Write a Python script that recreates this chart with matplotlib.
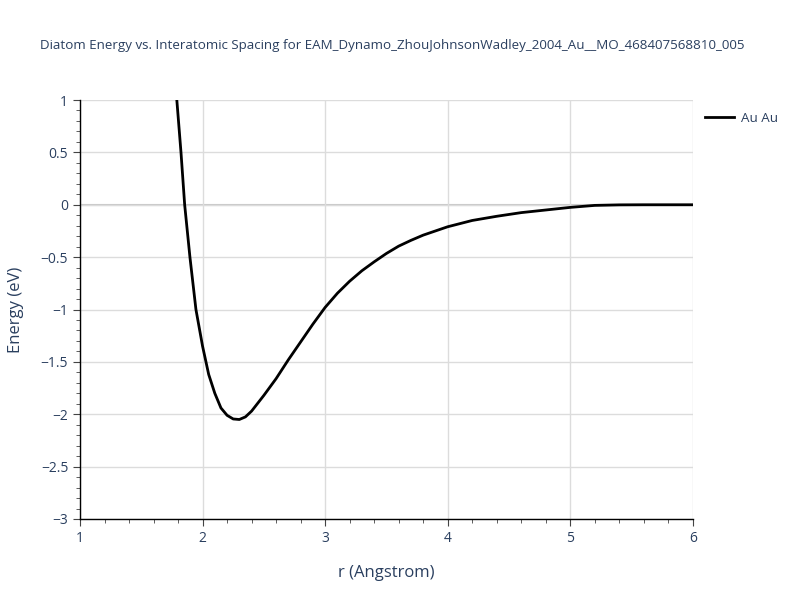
import matplotlib
matplotlib.use("Agg")
import matplotlib.pyplot as plt
from matplotlib.ticker import MultipleLocator

plt.rcParams['font.family'] = ['Open Sans', 'DejaVu Sans']

title = "Diatom Energy vs. Interatomic Spacing for EAM_Dynamo_ZhouJohnsonWadley_2004_Au__MO_468407568810_005"
series_name = "Au Au"
r_vals = [1.79, 1.824, 1.854, 1.897, 1.946, 2.0, 2.05, 2.1, 2.15, 2.2, 2.25, 2.3, 2.35,
          2.4, 2.5, 2.6, 2.7, 2.8, 2.9, 3.0, 3.1, 3.2, 3.3, 3.4, 3.5, 3.6, 3.7, 3.8,
          3.9, 4.0, 4.2, 4.4, 4.6, 4.8, 5.0, 5.2, 5.4, 5.6, 5.8, 6.0]
energy = [1.0, 0.5, 0.0, -0.5, -1.0, -1.35, -1.62, -1.8, -1.94, -2.01, -2.045, -2.05, -2.025,
          -1.97, -1.82, -1.66, -1.48, -1.31, -1.14, -0.98, -0.845, -0.73, -0.63, -0.545, -0.465,
          -0.395, -0.34, -0.29, -0.25, -0.21, -0.15, -0.11, -0.075, -0.05, -0.025, -0.006,
          -0.001, 0.0, 0.0, 0.0]

text_color = '#2a3f5f'
axis_color = '#444444'

fig = plt.figure(figsize=(8, 6), dpi=100)
ax = fig.add_axes([0.1, 0.135, 0.766, 0.6983])
ax.plot(r_vals, energy, color='black', lw=2, label=series_name, zorder=3)
ax.set_xlim(1, 6)
ax.set_ylim(-3, 1)
ax.xaxis.set_major_locator(MultipleLocator(1))
ax.xaxis.set_minor_locator(MultipleLocator(0.2))
ax.yaxis.set_major_locator(MultipleLocator(0.5))
ax.yaxis.set_minor_locator(MultipleLocator(0.1))
ax.grid(True, which='major', color='#dcdcdc', lw=1, zorder=0)
ax.axhline(0, color='#c8c8c8', lw=1.5, zorder=1)
for s in ['top', 'right']:
    ax.spines[s].set_visible(False)
for s in ['bottom', 'left']:
    ax.spines[s].set_color('black')
    ax.spines[s].set_linewidth(1)
ax.tick_params(which='major', direction='out', length=5, color=axis_color, labelcolor=text_color, labelsize=10)
ax.tick_params(which='minor', direction='out', length=3, color=axis_color)
ax.set_yticks([1, 0.5, 0, -0.5, -1, -1.5, -2, -2.5, -3])
ax.set_yticklabels(['1', '0.5', '0', '\u22120.5', '\u22121', '\u22121.5', '\u22122', '\u22122.5', '\u22123'])
ax.set_xlabel('r (Angstrom)', color=text_color, fontsize=12, labelpad=14)
ax.set_ylabel('Energy (eV)', color=text_color, fontsize=12, labelpad=12)
fig.text(0.05, 0.925, title, color=text_color, fontsize=9.6, ha='left', va='center')
ax.legend(loc='upper left', bbox_to_anchor=(1.0, 1.0), frameon=False, fontsize=9.6,
          labelcolor=text_color, handlelength=2.2, handletextpad=0.5)
fig.savefig('out.png', dpi=100)
